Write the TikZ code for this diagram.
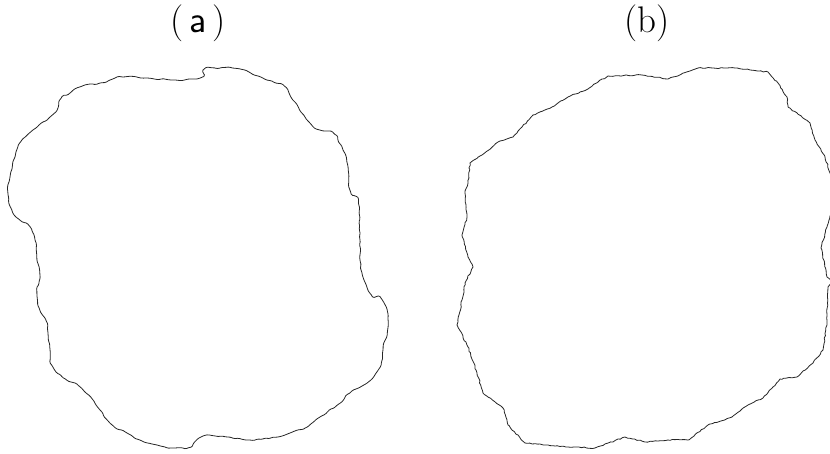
\documentclass[tikz,border=0pt]{standalone}
\usetikzlibrary{decorations.pathmorphing}
\begin{document}
\begin{tikzpicture}[x=1pt,y=-1pt,
  outline/.style={draw=black!85,line width=0.8pt,line join=round},
  cloudy/.style={outline,decorate,decoration={random steps,segment length=3.6pt,amplitude=0.9pt},rounded corners=1.2pt},
  jaggy/.style={outline,decorate,decoration={random steps,segment length=2.6pt,amplitude=0.6pt}},
  lbl/.style={anchor=base,inner sep=0pt,font=\fontsize{37}{42}\selectfont}]
\useasboundingbox (0,0) rectangle (830,454);
\clip (0,0) rectangle (830,454);
\pgfmathsetseed{4711}
\node[lbl] (la) at (198,33) {(\,{\fontsize{38}{38}\selectfont\textsf{a}}\,)};
\node[lbl] (lb) at (647,33) {(b)};
% shape (a)
\draw[cloudy] plot[smooth cycle,tension=0.55] coordinates {
 (203,70) (213,68) (240,69) (267,80) (283,85) (293,100) (310,123) (320,130)
 (333,133) (343,150) (348,167) (350,190) (358,200) (360,233) (360,260)
 (363,277) (370,293) (380,297) (387,310) (388,327) (383,350) (380,367)
 (367,383) (350,393) (340,403) (320,417) (307,427) (290,433) (277,437)
 (250,440) (227,437) (207,435) (197,440) (190,447) (173,448) (157,445)
 (140,440) (127,433) (110,423) (93,400) (80,387) (67,380) (53,367)
 (50,350) (48,333) (47,323) (40,310) (37,293) (40,277) (37,260) (35,240)
 (30,227) (20,220) (12,210) (8,193) (10,177) (15,157) (20,143) (33,130)
 (50,117) (57,110) (60,100) (70,93) (80,87) (100,83) (110,80) (120,77)
 (147,78) (173,80) (200,78)};
% shape (b)
\draw[jaggy] (608,76) -- (642,75) -- (668,79) -- (698,68) -- (735,68)
 -- (768,72) -- (778,83) -- (787,97) -- (788,107) -- (810,123) -- (815,140)
 -- (825,157) -- (830,173) -- (836,196) -- (829,220) -- (821,248)
 -- (827,277) -- (832,282) -- (828,287) -- (827,323) -- (823,350)
 -- (813,363) -- (797,377) -- (780,379) -- (763,398) -- (748,405)
 -- (732,417) -- (708,425) -- (688,440) -- (668,440) -- (645,442)
 -- (625,437) -- (595,448) -- (568,447) -- (548,445) -- (525,443)
 -- (508,425) -- (503,408) -- (483,393) -- (477,373) -- (468,347)
 -- (457,325) -- (462,300) -- (465,283) -- (473,267) -- (468,257)
 -- (462,235) -- (467,217) -- (465,193) -- (468,183) -- (470,163)
 -- (482,155) -- (498,142) -- (513,137) -- (522,127) -- (533,115)
 -- (552,107) -- (568,97) -- (588,89) -- (598,82) -- cycle;
\end{tikzpicture}
\end{document}
